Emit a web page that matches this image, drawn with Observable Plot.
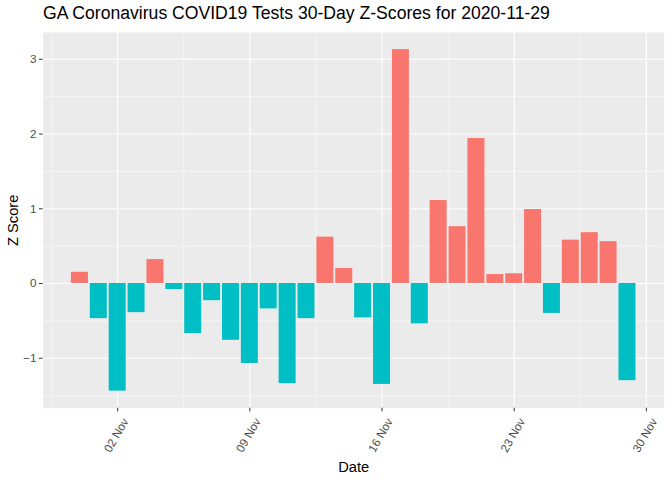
<!DOCTYPE html>
<html>
<head>
<meta charset="utf-8">
<script src="https://cdn.jsdelivr.net/npm/d3@7"></script>
<script src="https://cdn.jsdelivr.net/npm/@observablehq/plot@0.6"></script>
<style>
  html, body { margin: 0; padding: 0; background: #fff; }
  #wrap { width: 672px; height: 480px; position: relative; font-family: "Liberation Sans", Arial, sans-serif; }
  #title { position: absolute; left: 43px; top: 3px; font-size: 17.6px; color: #000; white-space: nowrap; }
  #chart { position: absolute; left: 0; top: 30px; }
</style>
</head>
<body>
<div id="wrap">
  <div id="title">GA Coronavirus COVID19 Tests 30-Day Z-Scores for 2020-11-29</div>
  <div id="chart"></div>
</div>
<script>
const dates = [
  "2020-10-31","2020-11-01","2020-11-02","2020-11-03","2020-11-04","2020-11-05",
  "2020-11-06","2020-11-07","2020-11-08","2020-11-09","2020-11-10","2020-11-11",
  "2020-11-12","2020-11-13","2020-11-14","2020-11-15","2020-11-16","2020-11-17",
  "2020-11-18","2020-11-19","2020-11-20","2020-11-21","2020-11-22","2020-11-23",
  "2020-11-24","2020-11-25","2020-11-26","2020-11-27","2020-11-28","2020-11-29"
];
const zScores = [
  0.15, -0.47, -1.44, -0.39, 0.32, -0.08,
  -0.67, -0.23, -0.76, -1.07, -0.34, -1.34,
  -0.47, 0.62, 0.20, -0.46, -1.35, 3.13,
  -0.54, 1.11, 0.76, 1.94, 0.12, 0.13,
  0.99, -0.40, 0.58, 0.68, 0.56, -1.30
];
const xTickDates = ["2020-11-02","2020-11-09","2020-11-16","2020-11-23","2020-11-30"];
const xMinorDates = ["2020-10-29T12:00Z","2020-11-05T12:00Z","2020-11-12T12:00Z","2020-11-19T12:00Z","2020-11-26T12:00Z"];
const yTicks = [-1, 0, 1, 2, 3];
const yMinor = [-1.5, -0.5, 0.5, 1.5, 2.5];

const DAY = 86400000;
const data = dates.map((d, i) => ({ date: new Date(d), z: zScores[i], sign: zScores[i] > 0 ? "pos" : "neg" }));
const majorX = xTickDates.map(d => new Date(d));
const minorX = xMinorDates.map(d => new Date(d));

const halfW = 0.45 * DAY;
const xMin = d3.min(data, d => +d.date) - halfW;
const xMax = d3.max(data, d => +d.date) + halfW;
const xPad = (xMax - xMin) * 0.05;
const yMinD = Math.min(0, d3.min(zScores));
const yMaxD = Math.max(0, d3.max(zScores));
const yPad = (yMaxD - yMinD) * 0.05;

const plot = Plot.plot({
  width: 672,
  height: 450,
  marginTop: 2,
  marginBottom: 72.3,
  marginLeft: 42.7,
  marginRight: 8.3,
  style: { fontFamily: "Liberation Sans, Arial, sans-serif", background: "transparent", overflow: "visible" },
  x: { type: "utc", domain: [new Date(xMin - xPad), new Date(xMax + xPad)] },
  y: { domain: [yMinD - yPad, yMaxD + yPad] },
  color: { domain: ["pos", "neg"], range: ["#F8766D", "#00BFC4"] },
  marks: [
    Plot.frame({ fill: "#EBEBEB", stroke: null }),
    Plot.ruleY(yMinor, { stroke: "#fff", strokeWidth: 0.55 }),
    Plot.ruleX(minorX, { stroke: "#fff", strokeWidth: 0.55 }),
    Plot.ruleY(yTicks, { stroke: "#fff", strokeWidth: 1.1 }),
    Plot.ruleX(majorX, { stroke: "#fff", strokeWidth: 1.1 }),
    Plot.rectY(data, {
      x1: d => new Date(+d.date - halfW),
      x2: d => new Date(+d.date + halfW),
      y1: 0,
      y2: "z",
      fill: "sign"
    }),
    Plot.axisY({
      ticks: yTicks, tickFormat: d3.format("d"), tickSize: 3.7, tickPadding: 3, fontSize: 11.7,
      color: "#4D4D4D", stroke: "#333",
      label: "Z Score", labelAnchor: "center", labelArrow: "none", labelOffset: 36
    }),
    Plot.axisX({
      ticks: majorX, tickSize: 3.7, text: null, stroke: "#333",
      label: "Date", labelAnchor: "center", labelArrow: "none", labelOffset: 64
    }),
    Plot.axisX({
      ticks: majorX, tickFormat: d3.utcFormat("%d %b"), tickSize: 0, tickPadding: 3,
      tickRotate: -60, fontSize: 11.7, color: "#4D4D4D", dx: 8, dy: 8, label: null
    })
  ]
});
plot.querySelectorAll('[aria-label="y-axis label"] text, [aria-label="x-axis label"] text').forEach(t => {
  t.setAttribute("fill", "#000");
  t.setAttribute("font-size", "14.7");
});
document.getElementById("chart").appendChild(plot);
</script>
</body>
</html>
